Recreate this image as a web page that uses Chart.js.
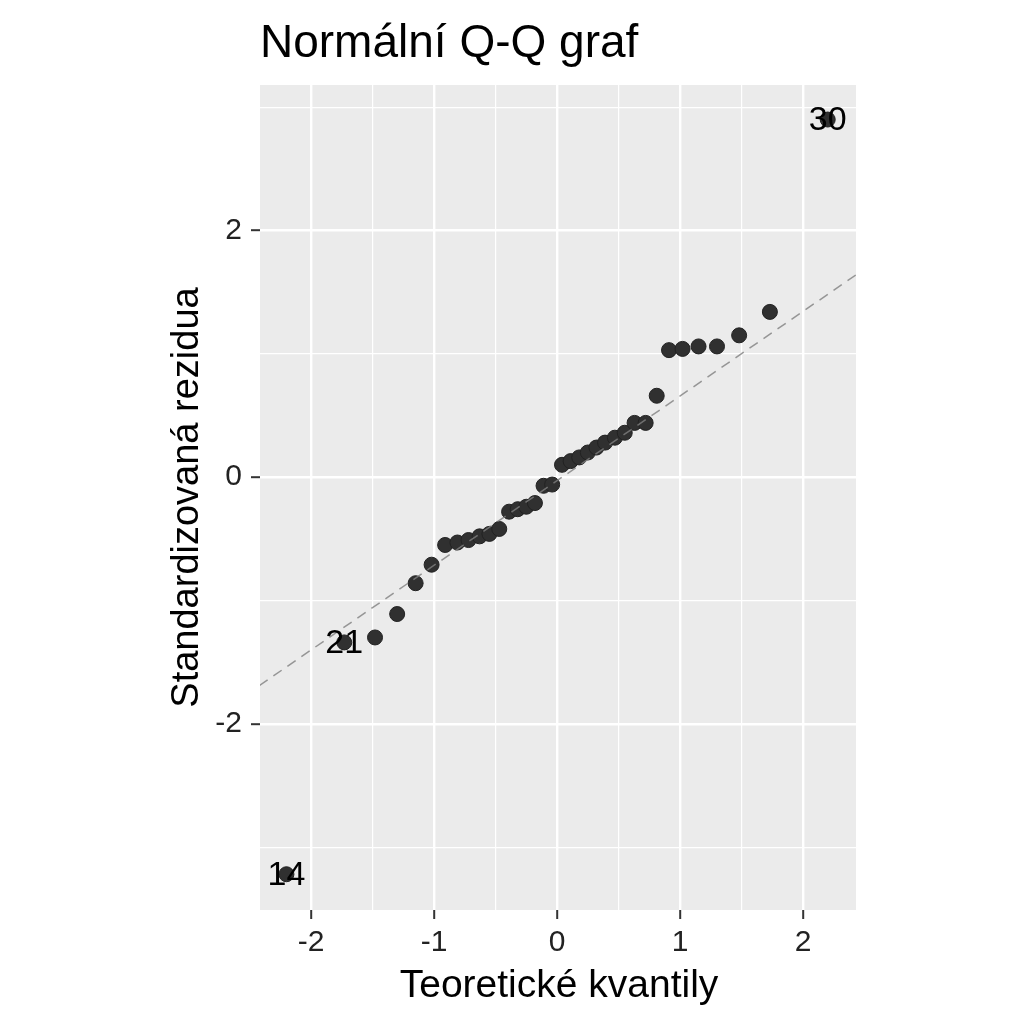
<!DOCTYPE html>
<html>
<head>
<meta charset="utf-8">
<script src="https://cdn.jsdelivr.net/npm/chart.js@4.4.1/dist/chart.umd.min.js"></script>
<style>
html,body{margin:0;padding:0;background:#fff;}
#wrap{width:1024px;height:1024px;position:relative;}
</style>
</head>
<body>
<div id="wrap"><canvas id="c"></canvas></div>
<script>
// ---- data ----
const chartTitle = "Normální Q-Q graf";
const xAxisTitle = "Teoretické kvantily";
const yAxisTitle = "Standardizovaná rezidua";

const theoQuantiles = [-2.20,-1.73,-1.48,-1.30,-1.15,-1.02,-0.91,-0.81,-0.72,-0.63,-0.55,-0.47,
  -0.39,-0.32,-0.25,-0.18,-0.11,-0.04,0.04,0.11,0.18,0.25,0.32,0.39,
  0.47,0.55,0.63,0.72,0.81,0.91,1.02,1.15,1.30,1.48,1.73,2.20];
const stdResiduals = [-3.22,-1.34,-1.30,-1.11,-0.86,-0.71,-0.55,-0.53,-0.51,-0.48,-0.46,-0.42,
  -0.28,-0.26,-0.24,-0.21,-0.07,-0.06,0.10,0.13,0.16,0.20,0.24,0.28,
  0.32,0.36,0.44,0.44,0.66,1.03,1.04,1.06,1.06,1.15,1.34,2.90];
const pointLabels = ["14","21","","","","","","","","","","","","","","","","","","","","","","","","","","","","","","","","","","30"];

const refLineX = [-2.42, 2.43];
const refLineY = [-1.69, 1.64];

const xTickValues = [-2,-1,0,1,2];
const yTickValues = [-2,0,2];

const FONT = "'Liberation Sans', Arial, sans-serif";

const pts = theoQuantiles.map((x,i)=>({x:x, y:stdResiduals[i]}));
const linePts = refLineX.map((x,i)=>({x:x, y:refLineY[i]}));

const decor = {
  id:'decor',
  beforeDraw(chart){
    const {ctx, chartArea:a} = chart;
    ctx.save();
    ctx.fillStyle = '#EBEBEB';
    ctx.fillRect(a.left, a.top, a.right-a.left, a.bottom-a.top);
    ctx.restore();
  },
  afterDraw(chart){
    const {ctx, chartArea:a} = chart;
    ctx.save();
    ctx.fillStyle = '#000';
    // title
    ctx.font = '46px ' + FONT;
    ctx.textAlign = 'left';
    ctx.textBaseline = 'alphabetic';
    ctx.fillText(chartTitle, a.left, 57);
    // x title
    ctx.font = '39px ' + FONT;
    ctx.textAlign = 'center';
    ctx.fillText(xAxisTitle, (a.left+a.right)/2 + 1, 997);
    // y title
    ctx.font = '38px ' + FONT;
    ctx.save();
    ctx.translate(198, (a.top+a.bottom)/2);
    ctx.rotate(-Math.PI/2);
    ctx.textAlign = 'center';
    ctx.textBaseline = 'alphabetic';
    ctx.fillText(yAxisTitle, 0, 0);
    ctx.restore();
    // point labels
    const meta = chart.getDatasetMeta(1);
    ctx.font = '34px ' + FONT;
    ctx.textAlign = 'center';
    ctx.textBaseline = 'middle';
    meta.data.forEach((el,i)=>{
      if(pointLabels[i]) ctx.fillText(pointLabels[i], el.x, el.y+1);
    });
    ctx.restore();
  }
};

const isMajorX = v => xTickValues.some(t=>Math.abs(t-v)<1e-9);
const isMajorY = v => yTickValues.some(t=>Math.abs(t-v)<1e-9);

new Chart(document.getElementById('c'), {
  data:{
    datasets:[
      {type:'line', data:linePts, borderColor:'rgba(128,128,128,0.8)', borderWidth:1.5,
       borderDash:[10,7], pointRadius:0, fill:false, tension:0},
      {type:'scatter', data:pts, backgroundColor:'#303030', borderColor:'#222222',
       borderWidth:1, pointRadius:7.5, pointHoverRadius:7.5}
    ]
  },
  options:{
    responsive:true, maintainAspectRatio:false, animation:false,
    layout:{padding:{left:0, top:85, right:168, bottom:0}},
    plugins:{legend:{display:false}, tooltip:{enabled:false}, title:{display:false}},
    scales:{
      x:{type:'linear', min:-2.415, max:2.43,
        afterFit(s){ s.height = 114; },
        border:{display:false},
        grid:{color:'#FFFFFF', lineWidth:c=>isMajorX(c.tick.value)?2.4:1.2,
              tickLength:9, tickWidth:2,
              tickColor:c=>isMajorX(c.tick.value)?'#333333':'rgba(0,0,0,0)'},
        ticks:{stepSize:0.5, includeBounds:false, autoSkip:false, maxRotation:0,
              padding:6, color:'#222222', font:{size:30, family:FONT},
              callback:v=>isMajorX(v)?String(v):''}
      },
      y:{type:'linear', min:-3.51, max:3.18,
        afterFit(s){ s.width = 260; },
        border:{display:false},
        grid:{color:'#FFFFFF', lineWidth:c=>isMajorY(c.tick.value)?2.4:1.2,
              tickLength:9, tickWidth:2,
              tickColor:c=>isMajorY(c.tick.value)?'#333333':'rgba(0,0,0,0)'},
        ticks:{stepSize:1, includeBounds:false, autoSkip:false,
              padding:9, color:'#222222', font:{size:30, family:FONT},
              callback:v=>isMajorY(v)?String(v):''}
      }
    }
  },
  plugins:[decor]
});
</script>
</body>
</html>
